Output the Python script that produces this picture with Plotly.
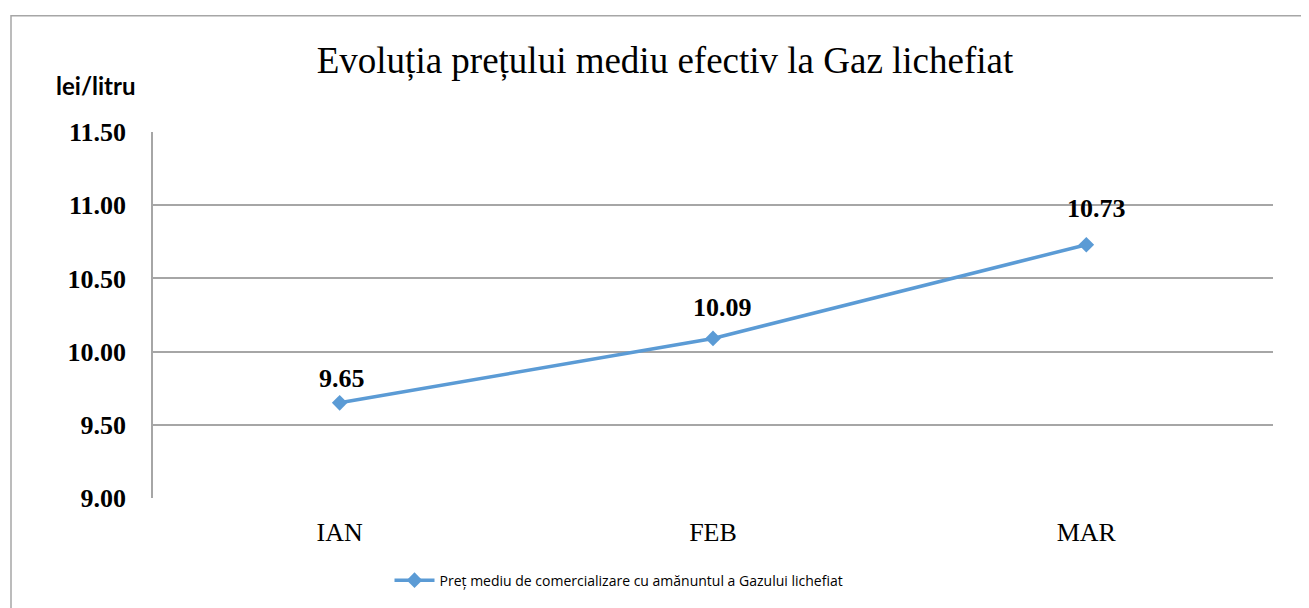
import plotly.graph_objects as go

months = ["IAN", "FEB", "MAR"]
prices = [9.65, 10.09, 10.73]
label_texts = ["9.65", "10.09", "10.73"]
y_ticks = [9.0, 9.5, 10.0, 10.5, 11.0, 11.5]
y_tick_labels = ["9.00", "9.50", "10.00", "10.50", "11.00", "11.50"]

# per-label pixel offsets of the data labels (styling, as placed in the original)
label_dx = [2, 9, 10]
label_dy = [24, 31, 36]

# page body has an 8px margin, so the figure is 8px smaller
W, H = 1301, 600
L, R, T, B = 145, 36, 124, 108
PW, PH = W - L - R, H - T - B

fig = go.Figure()
fig.add_trace(go.Scatter(
    x=months, y=prices, mode="lines+markers",
    name="Preț mediu de comercializare cu amănuntul a Gazului lichefiat",
    line=dict(color="#5B9BD5", width=3.5),
    marker=dict(symbol="diamond", size=12, color="#5B9BD5"),
))

annots = [dict(x=m, y=p, text="<b>%s</b>" % t, xref="x", yref="y",
               showarrow=False, xshift=dx, yshift=dy, xanchor="center", yanchor="middle",
               font=dict(family="Liberation Serif", size=26, color="#000000"))
          for m, p, t, dx, dy in zip(months, prices, label_texts, label_dx, label_dy)]
annots.append(dict(text="<b>lei/litru</b>", xref="paper", yref="paper",
                   x=(88 - L) / PW, y=1 + (T - 77) / PH,
                   xanchor="center", yanchor="middle", showarrow=False,
                   font=dict(family="Lato", size=24, color="#000000")))

fig.update_layout(
    width=W, height=H,
    margin=dict(l=L, r=R, t=T, b=B),
    paper_bgcolor="white", plot_bgcolor="white",
    title=dict(text="Evoluția prețului mediu efectiv la Gaz lichefiat",
               font=dict(family="Liberation Serif", size=37, color="#000000"),
               x=657 / W, xanchor="center", y=1 - 52 / H, yanchor="middle"),
    showlegend=True,
    legend=dict(orientation="h", x=(619 - 153) / PW, xanchor="center",
                y=(500 - 583) / PH, yanchor="middle",
                font=dict(family="Open Sans", size=14, color="#000000"),
                itemwidth=40),
    xaxis=dict(type="category", range=[-0.5, 2.5], showgrid=False, showline=False,
               ticks="", zeroline=False,
               tickfont=dict(family="Liberation Serif", size=26, color="#000000"),
               ticklabelstandoff=16),
    yaxis=dict(range=[9.0, 11.5], tickvals=y_ticks, ticktext=y_tick_labels,
               showgrid=True, gridcolor="#A6A6A6", gridwidth=1.5,
               showline=True, linecolor="#A6A6A6", linewidth=1.5,
               zeroline=False, ticks="",
               tickfont=dict(family="Liberation Serif", size=26, color="#000000", weight="bold"),
               ticklabelstandoff=20),
    annotations=annots,
    shapes=[dict(type="rect", xref="paper", yref="paper",
                 x0=(3 - L) / PW, x1=(1340 - L) / PW,
                 y0=-0.5, y1=1 + (T - 7) / PH,
                 line=dict(color="#A6A6A6", width=1.5), fillcolor="rgba(0,0,0,0)",
                 layer="below")],
)

fig.write_html("out.html")
